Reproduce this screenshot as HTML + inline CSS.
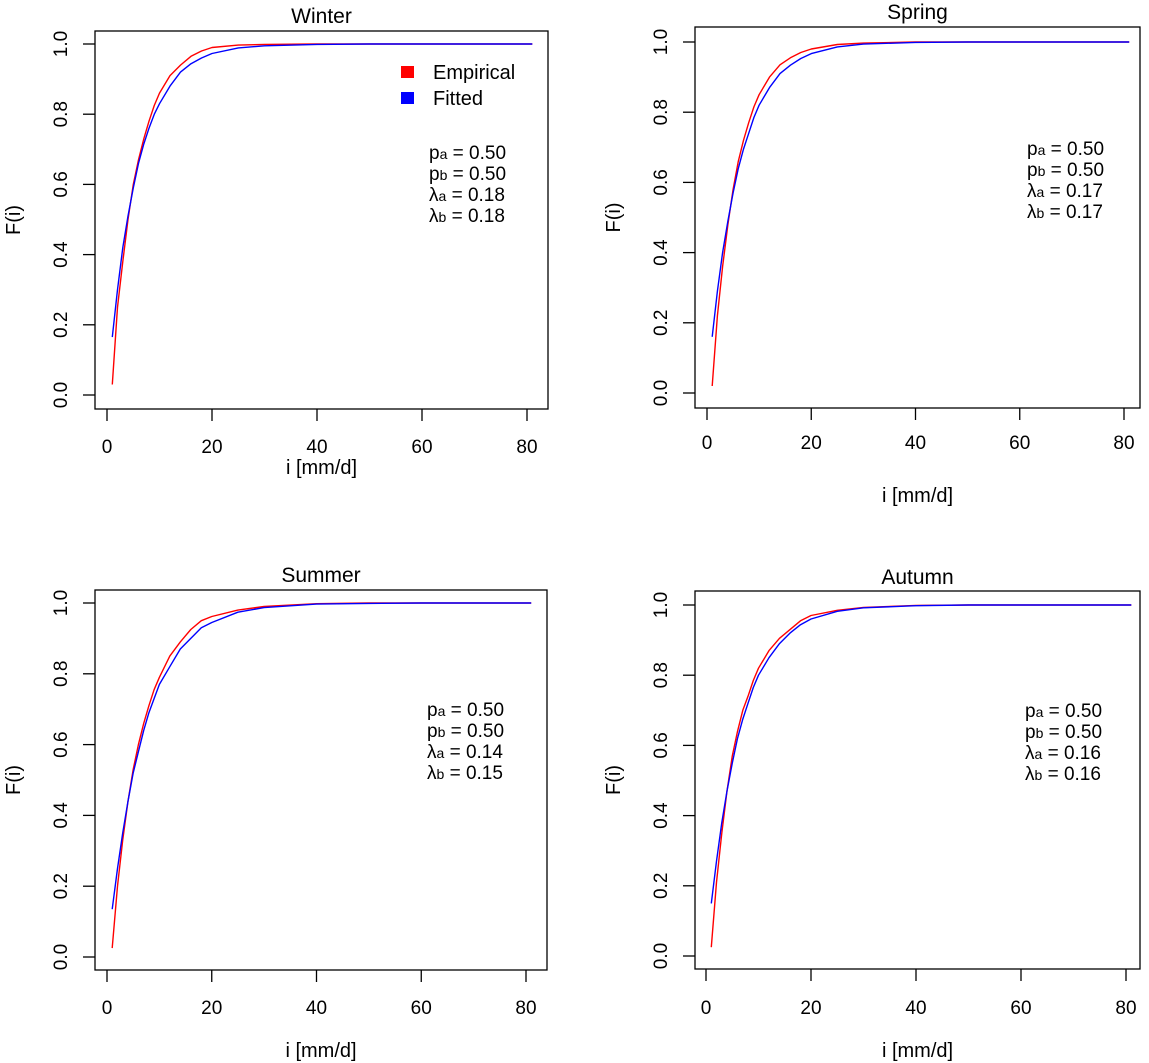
<!DOCTYPE html>
<html><head><meta charset="utf-8"><style>
html,body{margin:0;padding:0;background:#fff;}
svg{display:block;font-family:"Liberation Sans",Arial,sans-serif;}
</style></head><body>
<svg id="c" width="1149" height="1063" viewBox="0 0 1149 1063" xmlns="http://www.w3.org/2000/svg"></svg>
<script>
const xTicks = [0,20,40,60,80];
const yTicks = [0.0,0.2,0.4,0.6,0.8,1.0];
const yTickLabels = ["0.0","0.2","0.4","0.6","0.8","1.0"];
const panelTitles = ["Winter","Spring","Summer","Autumn"];
const xs = [1,2,3,4,5,6,7,8,9,10,12,14,16,18,20,25,30,40,50,60,81];
const winterEmp = [0.03,0.25,0.38,0.50,0.60,0.67,0.73,0.78,0.825,0.86,0.91,0.94,0.965,0.98,0.99,0.997,0.999,1,1,1,1];
const winterFit = [0.165,0.30,0.42,0.51,0.59,0.66,0.715,0.76,0.80,0.83,0.88,0.92,0.944,0.96,0.973,0.989,0.995,0.999,1,1,1];
const springEmp = [0.02,0.22,0.36,0.48,0.58,0.66,0.72,0.77,0.815,0.85,0.90,0.935,0.955,0.97,0.98,0.993,0.997,1,1,1,1];
const springFit = [0.16,0.29,0.40,0.49,0.57,0.64,0.695,0.74,0.785,0.82,0.87,0.91,0.934,0.953,0.967,0.986,0.994,0.999,1,1,1];
const summerEmp = [0.025,0.20,0.33,0.44,0.53,0.60,0.66,0.71,0.755,0.79,0.85,0.89,0.925,0.95,0.962,0.98,0.99,0.998,1,1,1];
const summerFit = [0.135,0.25,0.35,0.44,0.52,0.58,0.64,0.69,0.73,0.77,0.82,0.87,0.90,0.93,0.945,0.974,0.987,0.997,0.999,1,1];
const autumnEmp = [0.025,0.21,0.35,0.47,0.57,0.64,0.70,0.74,0.785,0.82,0.87,0.905,0.93,0.955,0.97,0.985,0.993,0.999,1,1,1];
const autumnFit = [0.15,0.27,0.38,0.47,0.55,0.62,0.675,0.72,0.765,0.80,0.85,0.89,0.92,0.944,0.96,0.982,0.992,0.998,1,1,1];
const paVals = ["0.50","0.50","0.50","0.50"];
const pbVals = ["0.50","0.50","0.50","0.50"];
const laVals = ["0.18","0.17","0.14","0.16"];
const lbVals = ["0.18","0.17","0.15","0.16"];

const NS="http://www.w3.org/2000/svg";
const svg=document.getElementById('c');
function mk(tag,attrs,parent,text){const e=document.createElementNS(NS,tag);for(const k in attrs)e.setAttribute(k,attrs[k]);if(text!==undefined)e.textContent=text;(parent||svg).appendChild(e);return e;}

const panels=[
 {box:[95,31,548,409],x0:107,x80:527,y0:395,y1:44,title:16,xl:446,xlab:467,yl:13,ann:[432,152],emp:winterEmp,fit:winterFit,legend:true},
 {box:[695,27,1140,408],x0:707,x80:1124,y0:393,y1:42,title:12,xl:442,xlab:495,yl:613,ann:[1030,148],emp:springEmp,fit:springFit},
 {box:[95,590,547,970],x0:107,x80:526,y0:957,y1:603,title:575,xl:1007,xlab:1050,yl:13,ann:[430,709],emp:summerEmp,fit:summerFit},
 {box:[695,591,1140,969],x0:706,x80:1126,y0:956,y1:605,title:577,xl:1007,xlab:1050,yl:613,ann:[1028,710],emp:autumnEmp,fit:autumnFit}
];

panels.forEach((p,pi)=>{
 const g=mk('g',{});
 
 
 const sx=v=>p.x0+(p.x80-p.x0)*v/80;
 const sy=v=>p.y0+(p.y1-p.y0)*v;
 const [l,t,r,b]=p.box;
 const box=mk('rect',{x:l,y:t,width:r-l,height:b-t,fill:'none',stroke:'#000','stroke-width':1.3},g);
 
 
 const tt=mk('text',{x:(l+r)/2,y:p.title+7,'text-anchor':'middle','font-size':21},g,panelTitles[pi]);
 
 
 const xa=mk('g',{},g);
 
 
 xTicks.forEach(v=>{
  mk('line',{x1:sx(v),x2:sx(v),y1:b,y2:b+12,stroke:'#000','stroke-width':1.3},xa);
  const tl=mk('text',{x:sx(v),y:p.xl+7,'text-anchor':'middle','font-size':19},xa,String(v));
  
  
 });
 const xt=mk('text',{x:(l+r)/2,y:p.xlab+7,'text-anchor':'middle','font-size':20},g,'i [mm/d]');
 
 
 const ya=mk('g',{},g);
 
 
 yTicks.forEach((v,i)=>{
  mk('line',{x1:l-12,x2:l,y1:sy(v),y2:sy(v),stroke:'#000','stroke-width':1.3},ya);
  const lx=l-35;
  const tl=mk('text',{x:lx,y:sy(v),'text-anchor':'middle','font-size':19,transform:`rotate(-90 ${lx} ${sy(v)})`,dy:7},ya,yTickLabels[i]);
  
  
 });
 const yc=(t+b)/2;
 const yt=mk('text',{x:p.yl,y:yc,'text-anchor':'middle','font-size':20,dy:7,transform:`rotate(-90 ${p.yl} ${yc})`},g,'F(i)');
 
 
 const pe=xs.map((x,i)=>`${i?'L':'M'}${sx(x).toFixed(1)},${sy(p.emp[i]).toFixed(1)}`).join('');
 const pf=xs.map((x,i)=>`${i?'L':'M'}${sx(x).toFixed(1)},${sy(p.fit[i]).toFixed(1)}`).join('');
 const le=mk('path',{d:pe,fill:'none',stroke:'#ff0000','stroke-width':1.4,'stroke-linejoin':'round'},g);
 
 
 const lf=mk('path',{d:pf,fill:'none',stroke:'#0000ff','stroke-width':1.4,'stroke-linejoin':'round'},g);
 
 
 const [ax,ay]=p.ann;
 const labs=[['p','a',paVals[pi]],['p','b',pbVals[pi]],['λ','a',laVals[pi]],['λ','b',lbVals[pi]]];
 labs.forEach((lb,k)=>{
  const tx=mk('text',{x:ax-3,y:ay+k*21+7,'font-size':19},g);
  
  
  mk('tspan',{},tx,lb[0]);
  mk('tspan',{'font-size':14},tx,lb[1]);
  mk('tspan',{},tx,' = '+lb[2]);
 });
 if(p.legend){
  const lg=mk('g',{},g);
  
  
  [['#ff0000','Empirical',72],['#0000ff','Fitted',98]].forEach(e=>{
   const it=mk('g',{},lg);
   
   
   mk('rect',{x:401,y:e[2]-6,width:13,height:12,fill:e[0]},it);
   mk('text',{x:433,y:e[2]+7,'font-size':20},it,e[1]);
  });
 }
});
</script>
</body></html>
